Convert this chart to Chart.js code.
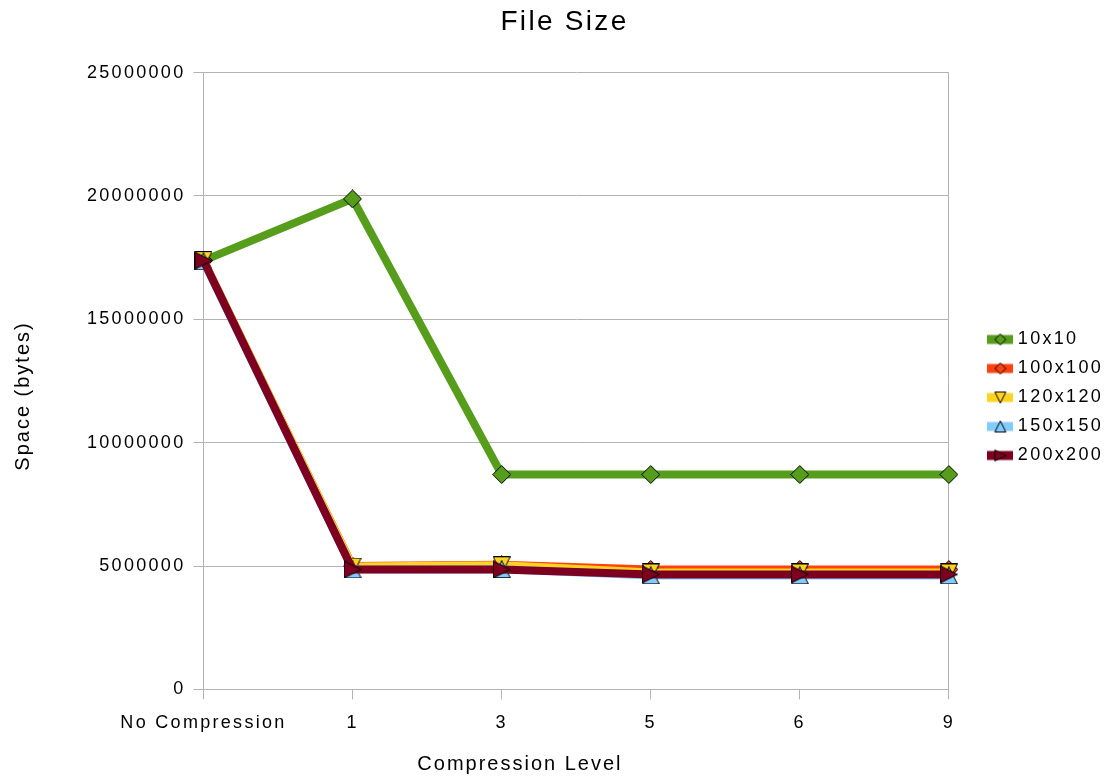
<!DOCTYPE html>
<html>
<head>
<meta charset="utf-8">
<title>File Size</title>
<script src="https://cdn.jsdelivr.net/npm/chart.js@4.4.1/dist/chart.umd.min.js"></script>
<style>
  html, body { margin: 0; padding: 0; background: #ffffff; overflow: hidden; }
  canvas { display: block; }
</style>
</head>
<body>
<canvas id="chart" width="1117" height="782"></canvas>
<script>
// Compression levels along the x axis
const levels = ['No Compression', '1', '3', '5', '6', '9'];

// File size in bytes for each image size
const size10 = [17380000, 19880000, 8710000, 8710000, 8710000, 8710000];
const size100 = [17380000, 5000000, 5050000, 4860000, 4860000, 4860000];
const size120 = [17400000, 4980000, 5030000, 4740000, 4740000, 4740000];
const size150 = [17350000, 4860000, 4870000, 4620000, 4620000, 4620000];
const size200 = [17380000, 4860000, 4860000, 4660000, 4660000, 4660000];

const seriesNames = ['10x10', '100x100', '120x120', '150x150', '200x200'];
const yTickValues = [0, 5000000, 10000000, 15000000, 20000000, 25000000];

const chartTitle = 'File Size';
const xTitle = 'Compression Level';
const yTitle = 'Space (bytes)';

const colors = ['#579d1c', '#ff420e', '#ffd320', '#83caff', '#7e0021'];
const shapes = ['diamond', 'diamond', 'down', 'up', 'right'];

Chart.defaults.font.family = '"Liberation Sans", Arial, sans-serif';
Chart.defaults.color = '#000000';

// Outlined marker drawn into a small canvas, used as a point style
function marker(shape, size, fill) {
  const c = document.createElement('canvas');
  c.width = size; c.height = size;
  const g = c.getContext('2d');
  const a = 0.5, b = size - 0.5, m = size / 2;
  g.beginPath();
  if (shape === 'diamond') { g.moveTo(m, a); g.lineTo(b, m); g.lineTo(m, b); g.lineTo(a, m); }
  else if (shape === 'down') { g.moveTo(a, a); g.lineTo(b, a); g.lineTo(m, b); }
  else if (shape === 'up') { g.moveTo(m, a); g.lineTo(b, b); g.lineTo(a, b); }
  else { g.moveTo(a, a); g.lineTo(b, m); g.lineTo(a, b); }
  g.closePath();
  g.fillStyle = fill;
  g.fill();
  g.lineWidth = 1;
  g.strokeStyle = '#000000';
  g.stroke();
  return c;
}

// Legend key: a short thick line with the series marker on top
function legendIcon(shape, color) {
  const c = document.createElement('canvas');
  c.width = 26; c.height = 14;
  const g = c.getContext('2d');
  g.fillStyle = color;
  g.fillRect(0, 2.5, 26, 9);
  g.drawImage(marker(shape, 12, color), 7, 1);
  return c;
}

const seriesData = [size10, size100, size120, size150, size200];
const legendIcons = shapes.map((s, i) => legendIcon(s, colors[i]));

const datasets = seriesData.map((values, i) => ({
  label: seriesNames[i],
  data: values,
  borderColor: colors[i],
  backgroundColor: colors[i],
  borderWidth: 8,
  tension: 0,
  fill: false,
  pointStyle: marker(shapes[i], shapes[i] === 'diamond' ? 19 : 18, colors[i]),
  pointRadius: 9,
  pointHoverRadius: 9,
  clip: false,
  order: seriesData.length - i
}));

// Wider glyph spacing for all chart text
const textSpacing = {
  id: 'textSpacing',
  beforeLayout(chart) { chart.ctx.letterSpacing = '2.3px'; },
  beforeDraw(chart) { chart.ctx.letterSpacing = '2.3px'; }
};

// Axis titles centred on the plot together with its tick labels
const axisTitles = {
  id: 'axisTitles',
  afterDraw(chart) {
    const { ctx, chartArea } = chart;
    const x = chart.scales.x, y = chart.scales.y;
    const labelsLeft = chartArea.left - y.labelBlock;
    ctx.save();
    ctx.letterSpacing = '2px';
    ctx.fillStyle = '#000000';
    ctx.font = '20px "Liberation Sans", Arial, sans-serif';
    ctx.textAlign = 'center';
    ctx.textBaseline = 'middle';
    ctx.fillText(xTitle, (labelsLeft + chartArea.right) / 2 + 6, x.bottom + 17);
    ctx.translate(labelsLeft - 56, (chartArea.top + chartArea.bottom) / 2 + 15);
    ctx.rotate(-Math.PI / 2);
    ctx.fillText(yTitle, 0, 0);
    ctx.restore();
  }
};

new Chart(document.getElementById('chart'), {
  type: 'line',
  data: { labels: levels, datasets },
  plugins: [textSpacing, axisTitles],
  options: {
    responsive: false,
    animation: false,
    layout: { padding: { left: 16, right: 4, top: 0, bottom: 35 } },
    plugins: {
      tooltip: { enabled: false },
      title: {
        display: true,
        text: chartTitle,
        color: '#000000',
        font: { size: 28, weight: 'normal' },
        padding: { top: 5, bottom: 34 }
      },
      legend: {
        position: 'right',
        align: 'center',
        fullSize: false,
        title: { display: true, text: '', font: { size: 10, lineHeight: 1 }, padding: { top: 23, bottom: 0 } },
        labels: {
          font: { size: 18 },
          color: '#000000',
          usePointStyle: true,
          pointStyleWidth: 17,
          padding: 11,
          generateLabels(chart) {
            return chart.data.datasets.map((ds, i) => ({
              text: ds.label,
              pointStyle: legendIcons[i],
              datasetIndex: i,
              hidden: false,
              lineWidth: 0,
              fillStyle: ds.borderColor,
              strokeStyle: ds.borderColor,
              fontColor: '#000000'
            }));
          }
        }
      }
    },
    scales: {
      x: {
        type: 'category',
        offset: false,
        grid: {
          color: (c) => (c.index === levels.length - 1 ? '#b3b3b3' : 'rgba(0,0,0,0)'),
          tickColor: '#b3b3b3',
          tickLength: 10,
          lineWidth: 1
        },
        border: { color: '#b3b3b3', width: 1 },
        ticks: { font: { size: 18 }, color: '#000000', padding: 13, maxRotation: 0, autoSkip: false }
      },
      y: {
        type: 'linear',
        min: 0,
        max: 25000000,
        afterBuildTicks(scale) { scale.ticks = yTickValues.map(v => ({ value: v })); },
        afterFit(scale) { scale.labelBlock = scale.width; scale.width += 63; },
        grid: { color: '#b3b3b3', tickColor: '#b3b3b3', tickLength: 10, lineWidth: 1 },
        border: { color: '#b3b3b3', width: 1 },
        ticks: { font: { size: 18 }, color: '#000000', padding: 8, callback: (v) => String(v) }
      },
      gap: {
        type: 'linear',
        position: 'right',
        display: true,
        grid: { display: false },
        border: { display: false },
        ticks: { display: false },
        afterFit(scale) { scale.width = 32; }
      }
    }
  }
});
</script>
</body>
</html>
